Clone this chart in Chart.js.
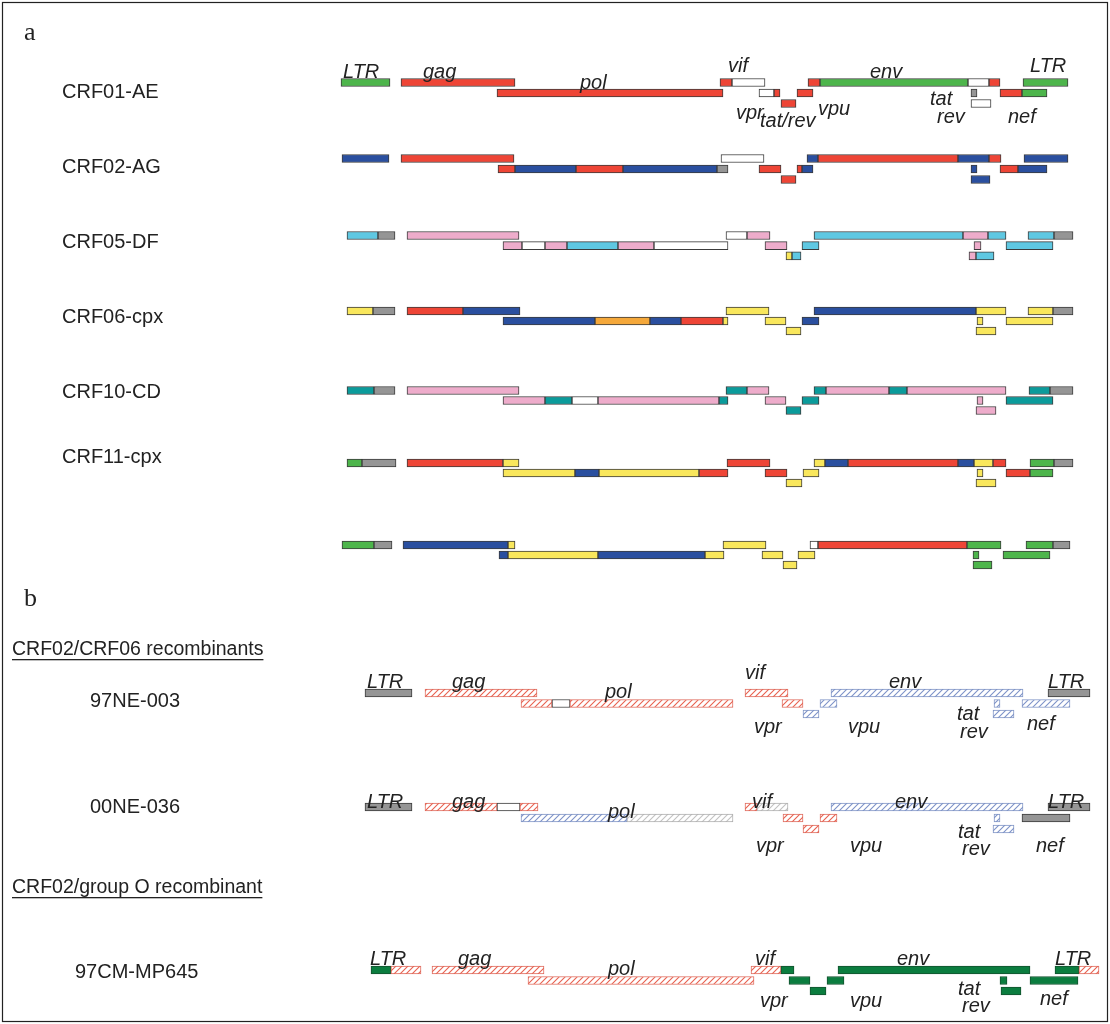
<!DOCTYPE html>
<html lang="en">
<head>
<meta charset="UTF-8" />
<title>CRF genome maps</title>
<script src="https://cdn.jsdelivr.net/npm/chart.js"></script>
<style>
  body { margin: 0; background: #fff; }
  canvas { display: block; }
</style>
</head>
<body>
<canvas id="genomeChart" width="1110" height="1024"></canvas>
<script>
  // segments: [start, end, lane (0 top, 1 middle, 2 bottom), subtype]
  // subtype codes: A E G D F C J K = subtypes, U = unclassified, N = not sequenced
  // hA / hG / hU = CRF02 / CRF06 / unclassified regions (hatched), O = group O
  const rowNames = ["CRF01-AE", "CRF02-AG", "CRF05-DF", "CRF06-cpx", "CRF10-CD", "CRF11-cpx", "",
                    "97NE-003", "00NE-036", "97CM-MP645"];

  const crf01ae = [
    [341, 390, 0, "E"], [401, 515, 0, "A"], [720, 732, 0, "A"], [732, 765, 0, "U"],
    [808, 820, 0, "A"], [820, 968, 0, "E"], [968, 989, 0, "U"], [989, 1000, 0, "A"], [1023, 1068, 0, "E"],
    [497, 723, 1, "A"], [759, 774, 1, "U"], [774, 780, 1, "A"], [797, 813, 1, "A"],
    [971, 977, 1, "N"], [1000, 1022, 1, "A"], [1022, 1047, 1, "E"],
    [781, 796, 2, "A"], [971, 991, 2, "U"]
  ];
  const crf02ag = [
    [342, 389, 0, "G"], [401, 514, 0, "A"], [721, 764, 0, "U"],
    [807, 818, 0, "G"], [818, 958, 0, "A"], [958, 989, 0, "G"], [989, 1001, 0, "A"], [1024, 1068, 0, "G"],
    [498, 515, 1, "A"], [515, 576, 1, "G"], [576, 623, 1, "A"], [623, 717, 1, "G"], [717, 728, 1, "N"],
    [759, 781, 1, "A"], [797, 802, 1, "A"], [802, 813, 1, "G"], [971, 977, 1, "G"],
    [1000, 1018, 1, "A"], [1018, 1047, 1, "G"],
    [781, 796, 2, "A"], [971, 990, 2, "G"]
  ];
  const crf05df = [
    [347, 378, 0, "F"], [378, 395, 0, "N"], [407, 519, 0, "D"], [726, 747, 0, "U"], [747, 770, 0, "D"],
    [814, 963, 0, "F"], [963, 988, 0, "D"], [988, 1006, 0, "F"], [1028, 1054, 0, "F"], [1054, 1073, 0, "N"],
    [503, 522, 1, "D"], [522, 545, 1, "U"], [545, 567, 1, "D"], [567, 618, 1, "F"], [618, 654, 1, "D"],
    [654, 728, 1, "U"], [765, 787, 1, "D"], [802, 819, 1, "F"], [974, 981, 1, "D"], [1006, 1053, 1, "F"],
    [786, 792, 2, "J"], [792, 801, 2, "F"], [969, 976, 2, "D"], [976, 994, 2, "F"]
  ];
  const crf06cpx = [
    [347, 373, 0, "J"], [373, 395, 0, "N"], [407, 463, 0, "A"], [463, 520, 0, "G"], [726, 769, 0, "J"],
    [814, 976, 0, "G"], [976, 1006, 0, "J"], [1028, 1053, 0, "J"], [1053, 1073, 0, "N"],
    [503, 595, 1, "G"], [595, 650, 1, "K"], [650, 681, 1, "G"], [681, 723, 1, "A"], [723, 728, 1, "J"],
    [765, 786, 1, "J"], [802, 819, 1, "G"], [977, 983, 1, "J"], [1006, 1053, 1, "J"],
    [786, 801, 2, "J"], [976, 996, 2, "J"]
  ];
  const crf10cd = [
    [347, 374, 0, "C"], [374, 395, 0, "N"], [407, 519, 0, "D"], [726, 747, 0, "C"], [747, 769, 0, "D"],
    [814, 826, 0, "C"], [826, 889, 0, "D"], [889, 907, 0, "C"], [907, 1006, 0, "D"],
    [1029, 1050, 0, "C"], [1050, 1073, 0, "N"],
    [503, 545, 1, "D"], [545, 572, 1, "C"], [572, 598, 1, "U"], [598, 719, 1, "D"], [719, 728, 1, "C"],
    [765, 786, 1, "D"], [802, 819, 1, "C"], [977, 983, 1, "D"], [1006, 1053, 1, "C"],
    [786, 801, 2, "C"], [976, 996, 2, "D"]
  ];
  const crf11cpx = [
    [347, 362, 0, "E"], [362, 396, 0, "N"], [407, 503, 0, "A"], [503, 519, 0, "J"], [727, 770, 0, "A"],
    [814, 825, 0, "J"], [825, 848, 0, "G"], [848, 958, 0, "A"], [958, 974, 0, "G"], [974, 993, 0, "J"],
    [993, 1006, 0, "A"], [1030, 1054, 0, "E"], [1054, 1073, 0, "N"],
    [503, 575, 1, "J"], [575, 599, 1, "G"], [599, 699, 1, "J"], [699, 728, 1, "A"],
    [765, 787, 1, "A"], [803, 819, 1, "J"], [977, 983, 1, "J"], [1006, 1030, 1, "A"], [1030, 1053, 1, "E"],
    [786, 802, 2, "J"], [976, 996, 2, "J"]
  ];
  const row7 = [
    [342, 374, 0, "E"], [374, 392, 0, "N"], [403, 508, 0, "G"], [508, 515, 0, "J"], [723, 766, 0, "J"],
    [810, 818, 0, "U"], [818, 967, 0, "A"], [967, 1001, 0, "E"], [1026, 1053, 0, "E"], [1053, 1070, 0, "N"],
    [499, 508, 1, "G"], [508, 598, 1, "J"], [598, 705, 1, "G"], [705, 724, 1, "J"],
    [762, 783, 1, "J"], [798, 815, 1, "J"], [973, 979, 1, "E"], [1003, 1050, 1, "E"],
    [783, 797, 2, "J"], [973, 992, 2, "E"]
  ];
  const ne003 = [
    [365, 412, 0, "N"], [425, 537, 0, "hA"], [745, 788, 0, "hA"], [831, 1023, 0, "hG"], [1048, 1090, 0, "N"],
    [521, 552, 1, "hA"], [552, 570, 1, "U"], [570, 733, 1, "hA"], [782, 803, 1, "hA"], [820, 837, 1, "hG"],
    [994, 1000, 1, "hG"], [1022, 1070, 1, "hG"],
    [803, 819, 2, "hG"], [993, 1014, 2, "hG"]
  ];
  const ne036 = [
    [365, 412, 0, "N"], [425, 497, 0, "hA"], [497, 520, 0, "U"], [520, 538, 0, "hA"],
    [745, 757, 0, "hA"], [757, 788, 0, "hU"], [831, 1023, 0, "hG"], [1048, 1090, 0, "N"],
    [521, 627, 1, "hG"], [627, 733, 1, "hU"], [783, 803, 1, "hA"], [820, 837, 1, "hA"],
    [994, 1000, 1, "hG"], [1022, 1070, 1, "N"],
    [803, 819, 2, "hA"], [993, 1014, 2, "hG"]
  ];
  const mp645 = [
    [371, 391, 0, "O"], [391, 421, 0, "hA"], [432, 544, 0, "hA"], [751, 781, 0, "hA"], [781, 794, 0, "O"],
    [838, 1030, 0, "O"], [1055, 1079, 0, "O"], [1079, 1099, 0, "hA"],
    [528, 754, 1, "hA"], [789, 810, 1, "O"], [827, 844, 1, "O"], [1000, 1007, 1, "O"], [1030, 1078, 1, "O"],
    [810, 826, 2, "O"], [1001, 1021, 2, "O"]
  ];
  const rowSegments = [crf01ae, crf02ag, crf05df, crf06cpx, crf10cd, crf11cpx, row7, ne003, ne036, mp645];

  // gene labels: [text, x, baseline] in map units
  const geneLabelsA = [
    ["LTR", 343, 78], ["gag", 423, 78], ["pol", 580, 89], ["vif", 728, 72], ["env", 870, 78], ["LTR", 1030, 72],
    ["vpr", 736, 119], ["tat/rev", 760, 127], ["vpu", 818, 115], ["tat", 930, 105], ["rev", 937, 123], ["nef", 1008, 123]
  ];
  const geneLabelsB = [
    ["LTR", 367, 688], ["gag", 452, 688], ["pol", 605, 698], ["vif", 745, 679], ["env", 889, 688], ["LTR", 1048, 688],
    ["vpr", 754, 733], ["vpu", 848, 733], ["tat", 957, 720], ["rev", 960, 738], ["nef", 1027, 730],
    ["LTR", 367, 808], ["gag", 452, 808], ["pol", 608, 818], ["vif", 752, 808], ["env", 895, 808], ["LTR", 1048, 808],
    ["vpr", 756, 852], ["vpu", 850, 852], ["tat", 958, 838], ["rev", 962, 855], ["nef", 1036, 852],
    ["LTR", 370, 965], ["gag", 458, 965], ["pol", 608, 975], ["vif", 755, 965], ["env", 897, 965], ["LTR", 1055, 965],
    ["vpr", 760, 1007], ["vpu", 850, 1007], ["tat", 958, 995], ["rev", 962, 1012], ["nef", 1040, 1005]
  ];

  // layout
  const rowTop = [82.5, 158.5, 235.5, 311, 390.5, 463, 545, 693, 807, 970];
  const laneStep = [10.5, 10.5, 10.2, 10, 10, 10, 10, 10.5, 11, 10.5];
  const rowLabelPos = [[62, 98], [62, 173], [62, 248], [62, 323], [62, 398], [62, 463], null,
                       [90, 707], [90, 813], [75, 978]];

  function hatch(color) {
    const c = document.createElement("canvas");
    c.width = 6; c.height = 6;
    const g = c.getContext("2d");
    g.fillStyle = "#fff";
    g.fillRect(0, 0, 6, 6);
    g.strokeStyle = color;
    g.lineWidth = 1.1;
    g.beginPath();
    g.moveTo(0, 6); g.lineTo(6, 0);
    g.moveTo(-1, 1); g.lineTo(1, -1);
    g.moveTo(5, 7); g.lineTo(7, 5);
    g.stroke();
    return g.createPattern(c, "repeat");
  }

  const fills = {
    A: "#ee4536", E: "#4db54b", G: "#2a4f9f", D: "#eeaccb", F: "#5fc8e2", C: "#0b9b9b",
    J: "#f9e75c", K: "#f5a83a", U: "#ffffff", N: "#959595", O: "#0b7d3f",
    hA: hatch("#e8614f"), hG: hatch("#7d92c8"), hU: hatch("#c2c2c2")
  };
  const edges = { hA: "#e06a5c", hG: "#8095c6", hU: "#b0b0b0", O: "#14522f" };

  const datasets = rowSegments.map((segs, r) => ({
    data: segs.map(s => ({ x: [s[0], s[1]], y: rowTop[r] + s[2] * laneStep[r], sub: s[3] })),
    backgroundColor: ctx => fills[ctx.raw.sub],
    borderColor: ctx => edges[ctx.raw.sub] || "#3b3b3b",
    borderWidth: 1,
    borderSkipped: false,
    barThickness: 8,
    grouped: false
  }));

  const textPlugin = {
    id: "genomeText",
    afterDraw(chart) {
      const c = chart.ctx;
      const xs = chart.scales.x, ys = chart.scales.y;
      c.save();
      c.fillStyle = "#222";
      c.textBaseline = "alphabetic";
      c.font = "italic 20px 'Liberation Sans', Arial, sans-serif";
      geneLabelsA.concat(geneLabelsB).forEach(l => {
        c.fillText(l[0], xs.getPixelForValue(l[1]), ys.getPixelForValue(l[2]));
      });
      c.font = "20px 'Liberation Sans', Arial, sans-serif";
      rowNames.forEach((n, i) => {
        if (!n) return;
        const p = rowLabelPos[i];
        c.fillText(n, xs.getPixelForValue(p[0]), ys.getPixelForValue(p[1]));
      });
      c.font = "19.5px 'Liberation Sans', Arial, sans-serif";
      [["CRF02/CRF06 recombinants", 12, 655], ["CRF02/group O recombinant", 12, 893]].forEach(h => {
        const x = xs.getPixelForValue(h[1]), y = ys.getPixelForValue(h[2]);
        c.fillText(h[0], x, y);
        const w = c.measureText(h[0]).width;
        c.fillRect(x, y + 4, w, 1.3);
      });
      c.font = "26px 'Liberation Serif', 'Times New Roman', serif";
      c.fillText("a", 24, 40);
      c.fillText("b", 24, 606);
      c.strokeStyle = "#222";
      c.lineWidth = 1.2;
      c.strokeRect(2.5, 2.5, 1105, 1019);
      c.restore();
    }
  };

  new Chart(document.getElementById("genomeChart").getContext("2d"), {
    type: "bar",
    data: { datasets },
    options: {
      indexAxis: "y",
      responsive: false,
      animation: false,
      layout: { padding: 0 },
      scales: {
        x: { type: "linear", min: 0, max: 1110, display: false, offset: false },
        y: { type: "linear", min: 0, max: 1024, reverse: true, display: false, offset: false }
      },
      plugins: { legend: { display: false }, tooltip: { enabled: false } }
    },
    plugins: [textPlugin]
  });
</script>
</body>
</html>
